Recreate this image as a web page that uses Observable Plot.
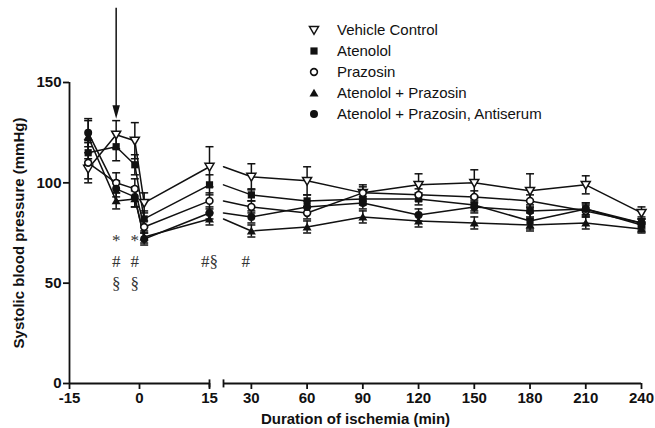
<!DOCTYPE html>
<html><head><meta charset="utf-8">
<script src="https://cdn.jsdelivr.net/npm/d3@7"></script>
<script src="https://cdn.jsdelivr.net/npm/@observablehq/plot@0.6"></script>
<style>
body{margin:0;background:#fff;}
#wrap{position:relative;width:655px;height:428px;}
#legend{position:absolute;left:306px;top:19px;font-family:"Liberation Sans",Arial,sans-serif;font-size:15px;color:#111;}
.row{display:flex;align-items:center;height:21px;}
.row svg{margin-right:15px;}
</style></head><body><div id="wrap"><div id="legend"></div></div>
<script>
// ---- data ----
const series = ["Vehicle Control", "Atenolol", "Prazosin", "Atenolol + Prazosin", "Atenolol + Prazosin, Antiserum"];
const times = [-11, -5, -1, 1, 15, 30, 60, 90, 120, 150, 180, 210, 240];
const vehicle   = [107, 124, 121, 90, 108, 103, 101, 95, 99, 100, 96, 99, 85];
const atenolol  = [115, 118, 109, 82, 99, 94, 91, 92, 92, 89, 81, 87, 79];
const prazosin  = [110, 100, 97, 78, 91, 88, 85, 95, 94, 93, 91, 86, 80];
const atePraz   = [123, 91, 92, 73, 82, 76, 78, 83, 81, 80, 79, 80, 77];
const antiserum = [125, 97, 93, 72, 85, 83, 88, 90, 84, 88, 86, 87, 80];
const vehicleSem   = [5, 7, 9, 5, 10, 6.5, 7, 4, 5.5, 6.5, 8.5, 4.5, 3];
const atenololSem  = [6, 7, 5, 4, 5, 3, 3, 3, 3, 3, 4, 3, 3];
const prazosinSem  = [10, 5, 5, 3, 4, 3, 3, 3, 3, 3, 3, 3, 3];
const atePrazSem   = [8, 4, 4, 3, 3, 3, 3, 3, 3, 3, 3, 3, 2];
const antiserumSem = [7, 4, 5, 3, 3, 3, 3, 3, 3, 3, 3, 3, 2];
const xTicksLeft = [-15, 0, 15];
const xTicksRight = [30, 60, 90, 120, 150, 180, 210, 240];
const yTicks = [0, 50, 100, 150];
const annotations = [
  {t: -5, text: "*", y: 71}, {t: -5, text: "#", y: 61}, {t: -5, text: "§", y: 50},
  {t: -1, text: "*", y: 71}, {t: -1, text: "#", y: 61}, {t: -1, text: "§", y: 50},
  {t: 15, text: "#§", y: 61}, {t: 30, text: "#", y: 61}
];
const arrowData = [{t: -5, from: 187, to: 132}];
// ----------------

const values = [vehicle, atenolol, prazosin, atePraz, antiserum];
const sems = [vehicleSem, atenololSem, prazosinSem, atePrazSem, antiserumSem];
const BREAK = 15, GAP = 3;
const vx = (t, seg) => seg === 2 ? t + GAP : t;

const rows = [];
series.forEach((name, i) => times.forEach((t, j) => {
  const v = values[i][j], e = sems[i][j];
  if (t <= BREAK) rows.push({name, t, x: vx(t, 1), seg: name + "|1", v, e, marker: true});
  if (t >= BREAK) rows.push({name, t, x: vx(t, 2), seg: name + "|2", v, e, marker: t > BREAK});
}));
const points = rows.filter(d => d.marker);

const rOf = s => Math.sqrt(s / Math.PI);
const triDown = {draw(c, s) { const r = rOf(s); c.moveTo(-r * 1.05, -r * 0.8); c.lineTo(r * 1.05, -r * 0.8); c.lineTo(0, r * 1.0); c.closePath(); }};
const triUp = {draw(c, s) { const r = rOf(s); c.moveTo(-r * 1.05, r * 0.8); c.lineTo(r * 1.05, r * 0.8); c.lineTo(0, -r * 1.0); c.closePath(); }};
const square = {draw(c, s) { const r = rOf(s) * 0.9; c.rect(-r, -r, 2 * r, 2 * r); }};
const circ = {draw(c, s) { const r = rOf(s); c.moveTo(r, 0); c.arc(0, 0, r, 0, 2 * Math.PI); }};
const cap = {draw(c, s) { const r = rOf(s); c.moveTo(-r, 0); c.lineTo(r, 0); }};
const head = {draw(c, s) { const r = rOf(s); c.moveTo(-r * 0.55, -r); c.lineTo(r * 0.55, -r); c.lineTo(0, r); c.closePath(); }};

const styles = [
  {symbol: triDown, fill: "white", stroke: "#111", strokeWidth: 1.5, r: 4.3},
  {symbol: square, fill: "#111", stroke: "none", r: 4.0},
  {symbol: circ, fill: "white", stroke: "#111", strokeWidth: 1.6, r: 3.4},
  {symbol: triUp, fill: "#111", stroke: "none", r: 4.3},
  {symbol: circ, fill: "#111", stroke: "none", r: 4.0}
];

const ink = "#111";
const markMarks = series.map((name, i) => Plot.dot(points.filter(d => d.name === name), {x: "x", y: "v", ...styles[i]}));

const chart = Plot.plot({
  width: 655, height: 428,
  marginLeft: 69, marginRight: 14, marginTop: 82, marginBottom: 45,
  style: {fontFamily: "'Liberation Sans', Arial, sans-serif", fontSize: "15px", fontWeight: "bold", color: ink, background: "white"},
  x: {type: "linear", domain: [-15, BREAK, BREAK + GAP, 240 + GAP], range: [69, 209, 223, 641]},
  y: {domain: [0, 150], range: [383, 82]},
  marks: [
    Plot.line(rows, {x: "x", y: "v", z: "seg", stroke: ink, strokeWidth: 1.5}),
    Plot.ruleX(points, {x: "x", y1: d => d.v - d.e, y2: d => d.v + d.e, stroke: ink, strokeWidth: 1.5}),
    Plot.dot(points, {x: "x", y: d => d.v + d.e, symbol: cap, r: 4, stroke: ink, strokeWidth: 1.5, fill: "none"}),
    Plot.dot(points, {x: "x", y: d => d.v - d.e, symbol: cap, r: 4, stroke: ink, strokeWidth: 1.5, fill: "none"}),
    ...markMarks,
    // axes
    Plot.ruleX([-15], {y1: 0, y2: 150, stroke: ink, strokeWidth: 1.8}),
    Plot.ruleY([0], {x1: -15, x2: BREAK, stroke: ink, strokeWidth: 1.8}),
    Plot.ruleY([0], {x1: BREAK + GAP, x2: 240 + GAP, stroke: ink, strokeWidth: 1.8}),
    Plot.ruleX([BREAK, BREAK + GAP], {y1: -2.2, y2: 1.8, stroke: ink, strokeWidth: 1.8}),
    Plot.axisX({ticks: [...xTicksLeft.map(t => vx(t, 1)), ...xTicksRight.map(t => vx(t, 2))],
      tickFormat: v => String(v > BREAK ? v - GAP : v), tickSize: 6, strokeWidth: 1.8, tickPadding: 3,
      label: "Duration of ischemia (min)", labelAnchor: "center", labelOffset: 40, labelArrow: "none"}),
    Plot.axisY({ticks: yTicks, tickSize: 6, strokeWidth: 1.8, tickPadding: 2,
      label: "Systolic blood pressure (mmHg)", labelAnchor: "center", labelOffset: 56, labelArrow: "none"}),
    // annotations
    Plot.text(annotations, {x: d => vx(d.t, 1), y: "y", text: "text", fontFamily: "'Liberation Serif', 'Times New Roman', serif", fontWeight: "normal", fontSize: 17, fill: "#333"}),
    // arrow
    Plot.ruleX(arrowData, {x: d => vx(d.t, 1), y1: "from", y2: d => d.to + 4, stroke: ink, strokeWidth: 1.5}),
    Plot.dot(arrowData, {x: d => vx(d.t, 1), y: d => d.to + 3.3, symbol: head, r: 6.8, fill: ink, stroke: "none"})
  ]
});
document.getElementById("wrap").prepend(chart);

// legend (drawn by hand, overlaying the plot area)
const legend = d3.select("#legend");
series.forEach((name, i) => {
  const row = legend.append("div").attr("class", "row");
  const svg = row.append("svg").attr("width", 16).attr("height", 16);
  const st = styles[i];
  svg.append("path").attr("transform", "translate(8,8)")
    .attr("d", d3.symbol(st.symbol, st.r * st.r * Math.PI)())
    .attr("fill", st.fill).attr("stroke", st.stroke).attr("stroke-width", st.strokeWidth || 0);
  row.append("span").text(name);
});
</script></body></html>
